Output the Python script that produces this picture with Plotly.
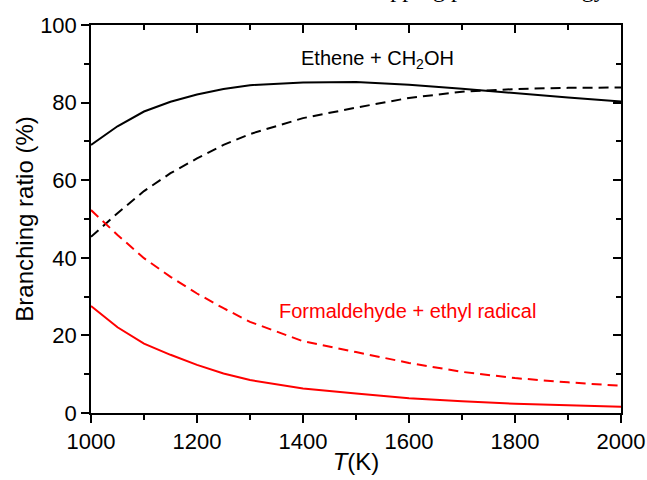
import plotly.graph_objects as go

T = [1000, 1050, 1100, 1150, 1200, 1250, 1300, 1400, 1500, 1600, 1700, 1800, 1900, 2000]
ethene_solid = [69.1, 73.9, 77.7, 80.2, 82.1, 83.5, 84.5, 85.2, 85.3, 84.6, 83.6, 82.4, 81.3, 80.3]
ethene_dash = [45.4, 51.5, 57.2, 61.8, 65.6, 69.1, 71.9, 76.0, 78.7, 81.2, 82.8, 83.5, 83.8, 83.9]
formal_dash = [52.3, 45.9, 39.9, 35.1, 30.8, 27.0, 23.5, 18.5, 15.7, 12.9, 10.6, 9.0, 7.9, 7.0]
formal_solid = [27.6, 22.1, 17.9, 15.0, 12.4, 10.2, 8.5, 6.3, 5.0, 3.8, 3.0, 2.4, 2.0, 1.6]

FONT = "Arial, Liberation Sans, sans-serif"
DASH = "10px,6px"

fig = go.Figure()
fig.add_trace(go.Scatter(x=T, y=ethene_solid, mode="lines", line=dict(color="black", width=2), showlegend=False))
fig.add_trace(go.Scatter(x=T, y=ethene_dash, mode="lines", line=dict(color="black", width=2, dash=DASH), showlegend=False))
fig.add_trace(go.Scatter(x=T, y=formal_dash, mode="lines", line=dict(color="red", width=2, dash=DASH), showlegend=False))
fig.add_trace(go.Scatter(x=T, y=formal_solid, mode="lines", line=dict(color="red", width=2), showlegend=False))
# invisible trace for mirrored top/right axes
fig.add_trace(go.Scatter(x=[1000], y=[0], xaxis="x2", yaxis="y2", mode="markers",
                         marker=dict(opacity=0), showlegend=False, hoverinfo="skip"))

axis_common = dict(showline=True, linecolor="black", linewidth=1.5, showgrid=False, zeroline=False,
                   tickcolor="black", tickwidth=1.5, ticklen=8, automargin=False,
                   tickfont=dict(size=22))

fig.update_layout(
    width=647, height=480,
    margin=dict(l=91, r=26, t=25, b=67),
    paper_bgcolor="white", plot_bgcolor="white",
    font=dict(family=FONT, size=20, color="black"),
    xaxis=dict(range=[1000, 2000], dtick=200, tick0=1000, ticks="outside",
               minor=dict(dtick=100, ticks="outside", ticklen=5, tickcolor="black", tickwidth=1.5),
               title=dict(text="<i>T</i>(K)", font=dict(size=24), standoff=0),
               **axis_common),
    yaxis=dict(range=[0, 100], dtick=20, tick0=0, ticks="outside",
               minor=dict(dtick=10, ticks="outside", ticklen=5, tickcolor="black", tickwidth=1.5),
               title=dict(text="Branching ratio (%)", font=dict(size=24), standoff=0),
               **axis_common),
    xaxis2=dict(range=[1000, 2000], overlaying="x", side="top", dtick=200, tick0=1000, ticks="inside",
                showticklabels=False,
                minor=dict(dtick=100, ticks="inside", ticklen=5, tickcolor="black", tickwidth=1.5),
                **axis_common),
    yaxis2=dict(range=[0, 100], overlaying="y", side="right", dtick=20, tick0=0, ticks="inside",
                showticklabels=False,
                minor=dict(dtick=10, ticks="inside", ticklen=5, tickcolor="black", tickwidth=1.5),
                **axis_common),
)

fig.add_annotation(x=1541, y=91.0, xref="x", yref="y", text="Ethene + CH<sub>2</sub>OH",
                   showarrow=False, font=dict(size=20, color="black", family=FONT))
fig.add_annotation(x=1598, y=26.3, xref="x", yref="y", text="Formaldehyde + ethyl radical",
                   showarrow=False, font=dict(size=20, color="red", family=FONT))
fig.add_annotation(x=0.975, y=1.054, xref="paper", yref="paper", xanchor="right", yanchor="bottom",
                   text="mapping potential energy", showarrow=False,
                   font=dict(size=24, color="black", family="Liberation Serif, Times New Roman, serif"))

fig.write_html("out.html")
